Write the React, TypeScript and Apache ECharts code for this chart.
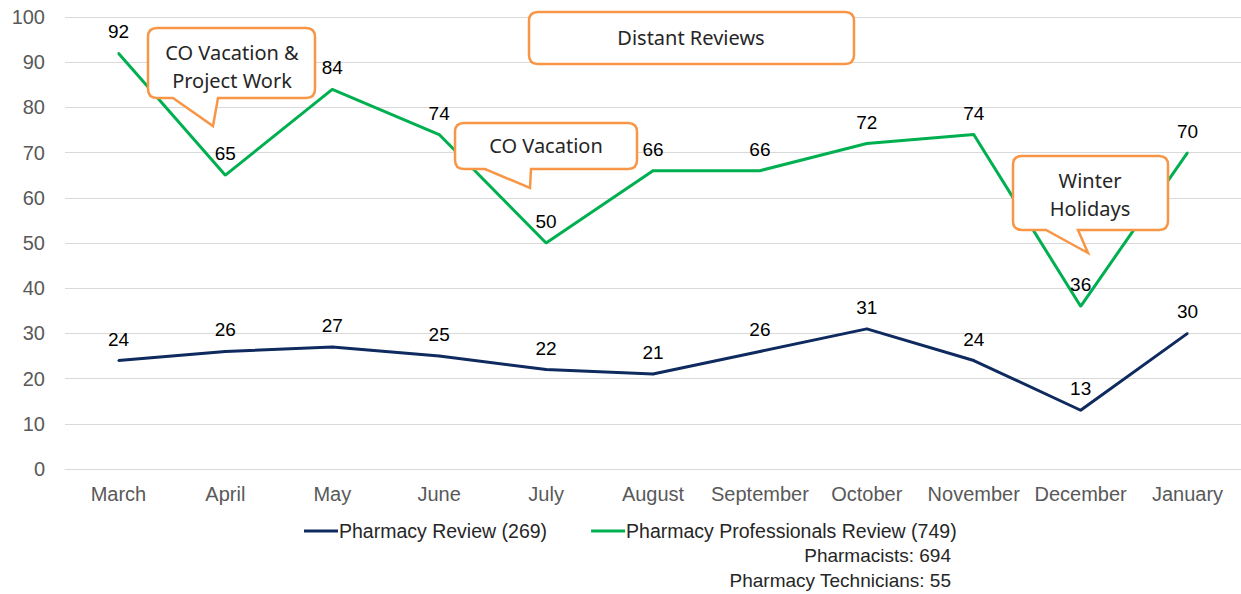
import React, { useEffect, useRef } from "react";
import * as echarts from "echarts";

const months = ["March", "April", "May", "June", "July", "August", "September", "October", "November", "December", "January"];
const pharmacyReview = [24, 26, 27, 25, 22, 21, 26, 31, 24, 13, 30];
const professionalsReview = [92, 65, 84, 74, 50, 66, 66, 72, 74, 36, 70];
const yTicks = { min: 0, max: 100, interval: 10 };
const seriesNames = ["Pharmacy Review (269)", "Pharmacy Professionals Review (749)"];
const legendNotes = ["Pharmacists: 694", "Pharmacy Technicians: 55"];

function bubble(x1: number, y1: number, x2: number, y2: number, r: number, p?: number[]) {
  let d = `M${x1 + r} ${y1} H${x2 - r} Q${x2} ${y1} ${x2} ${y1 + r} V${y2 - r} Q${x2} ${y2} ${x2 - r} ${y2} `;
  if (p) {
    d += `H${p[3]} L${p[1]} ${p[2]} L${p[0]} ${y2} `;
  }
  d += `H${x1 + r} Q${x1} ${y2} ${x1} ${y2 - r} V${y1 + r} Q${x1} ${y1} ${x1 + r} ${y1} Z`;
  return d;
}

const shapes: Record<string, string> = {
  bubble1: bubble(148, 28, 315, 98, 9, [173, 213, 126, 218]),
  bubble2: bubble(455, 123, 637, 169, 9, [485, 530, 188, 531]),
  bubble3: bubble(1013, 156, 1168, 230, 9, [1046, 1088, 253, 1078]),
  bubble4: bubble(529, 12, 854, 64, 9),
};
Object.keys(shapes).forEach((k) => {
  echarts.graphic.registerShape(k, echarts.graphic.extendPath(shapes[k], {}) as any);
});

export default function App() {
  const ref = useRef<HTMLDivElement>(null);
  useEffect(() => {
    if (!ref.current) return;
    const chart = echarts.init(ref.current, undefined, { renderer: "svg" });
    const bubbleStyle = { fill: "#fff", stroke: "#F79646", lineWidth: 2.5 };
    const textStyle = (x: number, y: number, t: string) => ({
      type: "text",
      x,
      y,
      z: 101,
      style: {
        text: t,
        font: '20px "Noto Sans"',
        fill: "#262626",
        align: "center",
        verticalAlign: "middle",
        lineHeight: 28,
      },
    });
    const dataLabel = { show: true, position: "top", distance: 11, color: "#000", fontSize: 19, fontFamily: "Liberation Sans" };
    chart.setOption({
      animation: false,
      grid: { left: 65, right: -3, top: 17, bottom: 125 },
      xAxis: {
        type: "category",
        data: months,
        boundaryGap: true,
        axisLine: { show: true, lineStyle: { color: "#d9d9d9" } },
        axisTick: { show: false },
        axisLabel: { color: "#595959", fontSize: 20, fontFamily: "Liberation Sans", margin: 15, interval: 0 },
      },
      yAxis: {
        type: "value",
        min: yTicks.min,
        max: yTicks.max,
        interval: yTicks.interval,
        axisLine: { show: false },
        axisTick: { show: false },
        splitLine: { lineStyle: { color: "#d9d9d9" } },
        axisLabel: { color: "#595959", fontSize: 20, fontFamily: "Liberation Sans", margin: 20 },
      },
      legend: {
        left: 304,
        top: 520,
        padding: 0,
        itemGap: 44,
        itemWidth: 34,
        itemHeight: 3,
        icon: "rect",
        textStyle: { color: "#262626", fontSize: 19.5, lineHeight: 22, fontFamily: "Liberation Sans", padding: [0, 0, 0, -4] },
        data: seriesNames,
      },
      series: [
        {
          name: seriesNames[0],
          type: "line",
          data: pharmacyReview,
          symbol: "circle",
          symbolSize: 2,
          showSymbol: true,
          lineStyle: { color: "#0E2A5E", width: 3 },
          itemStyle: { color: "#0E2A5E" },
          label: dataLabel,
        },
        {
          name: seriesNames[1],
          type: "line",
          data: professionalsReview,
          symbol: "circle",
          symbolSize: 2,
          showSymbol: true,
          lineStyle: { color: "#00B050", width: 3 },
          itemStyle: { color: "#00B050" },
          label: dataLabel,
        },
      ],
      graphic: [
        { type: "bubble1", x: 0, y: 0, z: 100, style: bubbleStyle },
        textStyle(232, 66, "CO Vacation &\nProject Work"),
        { type: "bubble2", x: 0, y: 0, z: 100, style: bubbleStyle },
        textStyle(546, 145, "CO Vacation"),
        { type: "bubble3", x: 0, y: 0, z: 100, style: bubbleStyle },
        textStyle(1090, 194, "Winter\nHolidays"),
        { type: "bubble4", x: 0, y: 0, z: 100, style: bubbleStyle },
        textStyle(691, 37, "Distant Reviews"),
        {
          type: "text",
          x: 951,
          y: 555,
          style: { text: legendNotes[0], font: '19px "Liberation Sans"', fill: "#262626", align: "right", verticalAlign: "middle" },
        },
        {
          type: "text",
          x: 951,
          y: 580,
          style: { text: legendNotes[1], font: '19px "Liberation Sans"', fill: "#262626", align: "right", verticalAlign: "middle" },
        },
      ],
    });
    return () => chart.dispose();
  }, []);
  return <div ref={ref} style={{ position: "absolute", left: 0, top: 0, width: 1241, height: 594, background: "#fff" }} />;
}
